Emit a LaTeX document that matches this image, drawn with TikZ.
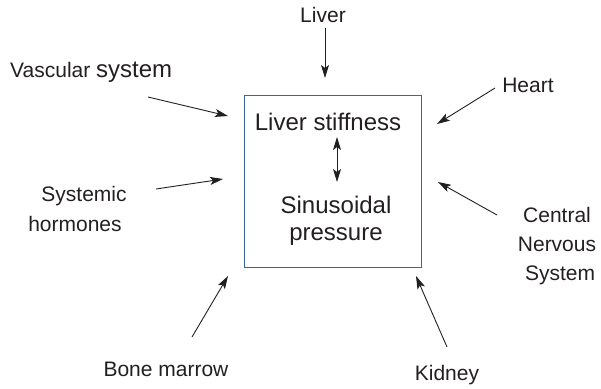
\documentclass[tikz,border=0pt]{standalone}
\usepackage{fontspec}
\setmainfont{Liberation Sans}
\usetikzlibrary{arrows.meta}
\definecolor{ink}{RGB}{35,31,32}
\definecolor{boxblue}{RGB}{60,100,160}
\begin{document}
\begin{tikzpicture}[x=1pt,y=-1pt,
  lbl/.style={font=\fontsize{21}{25}\selectfont, text=ink, inner sep=0pt, anchor=base},
  inbox/.style={font=\fontsize{24}{28}\selectfont, text=ink, inner sep=0pt, anchor=base},
  arr/.style={draw=ink, line width=0.9pt, -{Stealth[length=13pt,width=8pt,inset=3pt]}},
  darr/.style={draw=ink, line width=0.9pt, {Stealth[length=13pt,width=8pt,inset=3pt]}-{Stealth[length=13pt,width=8pt,inset=3pt]}}]
\useasboundingbox (0,0) rectangle (601,388);
% main box
\node[draw=boxblue, line width=0.85pt, minimum width=177pt, minimum height=172pt, inner sep=0pt] (box) at (332.5,181) {};
\node[inbox] (stiff) at (328,130) {Liver stiffness};
\node[inbox] (sinus) at (336,213) {Sinusoidal};
\node[inbox] (press) at (336,240) {pressure};
% labels
\node[lbl] (liver) at (323,22) {Liver};
\node[lbl, anchor=base west] (vasc) at (10,77) {Vascular {\fontsize{24}{28}\selectfont system}};
\node[lbl] (sys1) at (84,201) {Systemic};
\node[lbl] (sys2) at (75,231) {hormones};
\node[lbl] (heart) at (528,92) {Heart};
\node[lbl] (cns1) at (557,222) {Central};
\node[lbl] (cns2) at (557,251) {Nervous};
\node[lbl] (cns3) at (560,280) {System};
\node[lbl] (bone) at (166,376) {Bone marrow};
\node[lbl] (kid) at (447,380) {Kidney};
% arrow ends
\coordinate (liverT) at (325,28);   \coordinate (liverH) at (325,78);
\coordinate (vascT) at (148,97);    \coordinate (vascH) at (228,116);
\coordinate (sysT) at (156,189);    \coordinate (sysH) at (223,179);
\coordinate (heartT) at (495,88);   \coordinate (heartH) at (437,124);
\coordinate (cnsT) at (497,215);    \coordinate (cnsH) at (438,182);
\coordinate (kidT) at (447,347);    \coordinate (kidH) at (416,276);
\coordinate (boneT) at (192,337);   \coordinate (boneH) at (228,276);
\coordinate (dA) at (337,137);      \coordinate (dB) at (337,182);
% arrows
\draw[arr] (liverT) -- (liverH);
\draw[arr] (vascT) -- (vascH);
\draw[arr] (sysT) -- (sysH);
\draw[arr] (heartT) -- (heartH);
\draw[arr] (cnsT) -- (cnsH);
\draw[arr] (kidT) -- (kidH);
\draw[arr] (boneT) -- (boneH);
\draw[darr] (dA) -- (dB);
\end{tikzpicture}
\end{document}
